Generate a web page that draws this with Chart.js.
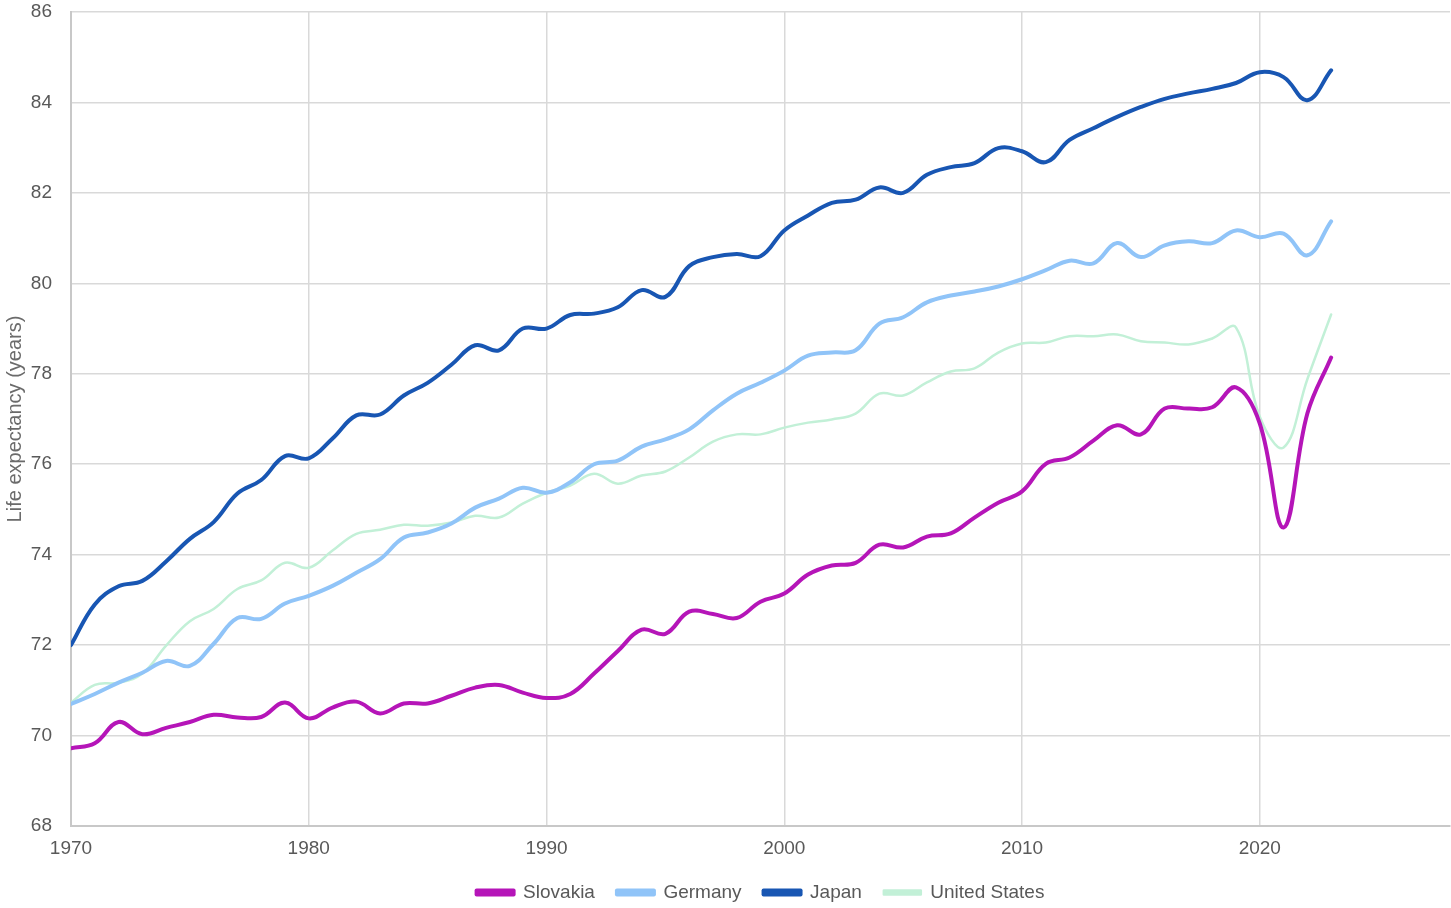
<!DOCTYPE html>
<html>
<head>
<meta charset="utf-8">
<script src="https://cdn.jsdelivr.net/npm/chart.js@4.4.1/dist/chart.umd.min.js"></script>
<style>
  html, body { margin: 0; padding: 0; background: #ffffff; }
  #wrap { width: 1451px; height: 908px; position: relative; }
</style>
</head>
<body>
<div id="wrap"><canvas id="c" width="1451" height="908"></canvas></div>
<script>
const years = [1970,1971,1972,1973,1974,1975,1976,1977,1978,1979,
               1980,1981,1982,1983,1984,1985,1986,1987,1988,1989,
               1990,1991,1992,1993,1994,1995,1996,1997,1998,1999,
               2000,2001,2002,2003,2004,2005,2006,2007,2008,2009,
               2010,2011,2012,2013,2014,2015,2016,2017,2018,2019,
               2020,2021,2022,2023];

const slovakia = [69.72,69.83,70.30,70.03,70.17,70.30,70.46,70.40,70.41,70.73,
                  70.38,70.62,70.75,70.49,70.71,70.71,70.88,71.06,71.12,70.95,
                  70.83,70.92,71.37,71.87,72.34,72.25,72.74,72.69,72.60,72.96,
                  73.14,73.56,73.76,73.82,74.22,74.16,74.40,74.47,74.82,75.15,
                  75.40,76.01,76.15,76.52,76.86,76.66,77.23,77.23,77.26,77.70,
                  76.90,74.60,77.12,78.36];

const germany = [70.70,70.92,71.17,71.39,71.65,71.54,72.03,72.60,72.58,72.92,
                 73.09,73.31,73.60,73.90,74.38,74.49,74.69,75.04,75.24,75.48,
                 75.37,75.60,76.00,76.08,76.39,76.55,76.77,77.19,77.56,77.80,
                 78.07,78.40,78.47,78.52,79.11,79.25,79.58,79.73,79.82,79.93,
                 80.09,80.29,80.50,80.44,80.89,80.58,80.84,80.93,80.89,81.17,
                 81.02,81.10,80.62,81.37];

const japan = [72.00,72.90,73.30,73.42,73.85,74.35,74.72,75.35,75.65,76.18,
               76.13,76.57,77.08,77.10,77.52,77.80,78.20,78.63,78.52,79.00,
               79.00,79.30,79.33,79.47,79.85,79.70,80.38,80.58,80.65,80.60,
               81.17,81.50,81.78,81.85,82.12,82.00,82.40,82.57,82.66,82.99,
               82.92,82.68,83.17,83.43,83.68,83.90,84.08,84.20,84.30,84.43,
               84.67,84.56,84.05,84.71];

const unitedStates = [70.73,71.12,71.17,71.37,71.99,72.53,72.80,73.24,73.43,73.82,
                      73.71,74.09,74.46,74.55,74.66,74.64,74.71,74.86,74.82,75.13,
                      75.37,75.53,75.79,75.57,75.75,75.84,76.15,76.50,76.66,76.66,
                      76.81,76.92,76.99,77.12,77.56,77.52,77.81,78.05,78.12,78.47,
                      78.67,78.69,78.83,78.83,78.87,78.72,78.69,78.65,78.78,79.02,
                      77.05,76.37,77.88,79.31];

const xTicks = [1970,1980,1990,2000,2010,2020];
const yTicks = [68,70,72,74,76,78,80,82,84,86];

const toPts = arr => arr.map((v, i) => ({ x: years[i], y: v }));

const FONT = "'Liberation Sans', Arial, sans-serif";

new Chart(document.getElementById('c'), {
  type: 'line',
  data: {
    datasets: [
      { label: 'Slovakia', data: toPts(slovakia), borderColor: '#b515b8', backgroundColor: '#b515b8', borderWidth: 4 },
      { label: 'Germany', data: toPts(germany), borderColor: '#90c4f8', backgroundColor: '#90c4f8', borderWidth: 4 },
      { label: 'Japan', data: toPts(japan), borderColor: '#1856b3', backgroundColor: '#1856b3', borderWidth: 4 },
      { label: 'United States', data: toPts(unitedStates), borderColor: '#c2f0d7', backgroundColor: '#c2f0d7', borderWidth: 2.5 }
    ]
  },
  options: {
    responsive: false,
    animation: false,
    devicePixelRatio: 1,
    layout: { padding: { top: 12, right: 1, left: 0, bottom: -4 } },
    elements: {
      point: { radius: 0, hoverRadius: 0 },
      line: { tension: 0.4, borderCapStyle: 'round', borderJoinStyle: 'round', fill: false }
    },
    plugins: {
      tooltip: { enabled: false },
      legend: {
        position: 'bottom',
        align: 'center',
        fullSize: false,
        labels: {
          boxWidth: 37,
          boxHeight: 4,
          padding: 22,
          color: '#595959',
          font: { family: FONT, size: 19 }
        }
      }
    },
    scales: {
      x: {
        type: 'linear',
        min: 1970,
        max: 2028,
        afterBuildTicks: s => { s.ticks = xTicks.map(v => ({ value: v })); },
        afterFit: s => { s.height = 35; },
        ticks: {
          includeBounds: false,
          padding: 11,
          color: '#595959',
          font: { family: FONT, size: 19 },
          maxRotation: 0,
          callback: v => String(v)
        },
        grid: { color: '#d9d9d9', lineWidth: 1.5, drawTicks: false },
        border: { color: '#c8c8c8', width: 2 }
      },
      y: {
        min: 68,
        max: 86,
        afterBuildTicks: s => { s.ticks = yTicks.map(v => ({ value: v })); },
        afterFit: s => { s.width = 71; s.paddingTop = 0; s.paddingBottom = 0; },
        ticks: {
          padding: 19,
          color: '#595959',
          font: { family: FONT, size: 19 }
        },
        grid: { color: '#d9d9d9', lineWidth: 1.5, drawTicks: false },
        border: { color: '#c8c8c8', width: 2 },
        title: {
          display: true,
          text: 'Life expectancy (years)',
          color: '#6b6b6b',
          font: { family: FONT, size: 20 },
          padding: { top: 3, bottom: 0 }
        }
      }
    }
  }
});
</script>
</body>
</html>
